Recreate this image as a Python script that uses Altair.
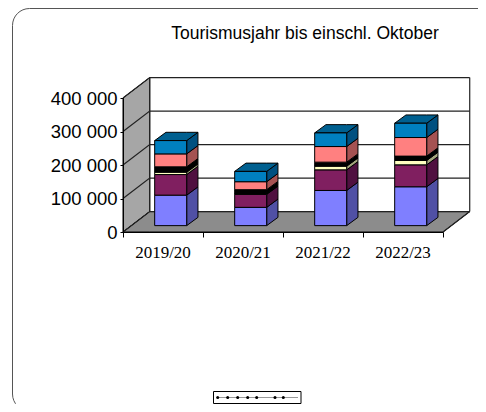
import altair as alt

seasons = ["2019/20", "2020/21", "2021/22", "2022/23"]
series_a = [91000, 54600, 105000, 116000]
series_b = [61500, 38700, 61500, 65500]
series_c = [7000, 1000, 11000, 13000]
series_d = [16000, 13000, 12000, 13000]
series_e = [38700, 23800, 46600, 55500]
series_f = [39700, 30800, 40700, 42700]
all_series = [series_a, series_b, series_c, series_d, series_e, series_f]
front_colors = ["#7f7fff", "#801f60", "#ffffc0", "#000000", "#ff8080", "#0080c0"]
side_colors = ["#5050a5", "#501040", "#a5a57d", "#000000", "#a55252", "#005080"]
top_color = "#006090"
title_text = "Tourismusjahr bis einschl. Oktober"
y_ticks = [0, 100000, 200000, 300000, 400000]
x_ticks = [0, 1, 2, 3, 4]

Y_MAX = 400000
DX, DY = 0.334, 61000          # depth of the room
BDX, BDY = 0.141, 24700        # depth of a bar
BASE = 19000                   # bars stand this far back on the floor
BX0, BW = 0.396, 0.40


def polygon(pts, fill, pid):
    return [{"pid": pid, "x": x, "y": y, "y2": y2, "fill": fill} for (x, y, y2) in pts]


room, faces = [], []
room += polygon([(0, 0, Y_MAX), (DX, DY, Y_MAX + DY)], "#a6a6a6", "wall")
room += polygon([(0, 0, 0), (DX, 0, DY), (4, 0, DY), (4 + DX, DY, DY)], "#8c8c8c", "floor")

front = []
for i, _ in enumerate(seasons):
    x0 = i + BX0
    x1 = x0 + BW
    b = BASE
    for j, s in enumerate(all_series):
        t = b + s[i]
        faces += polygon([(x1, b, t), (x1 + BDX, b + BDY, t + BDY)], side_colors[j], f"s{i}{j}")
        front.append({"x": x0, "x2": x1, "y": b, "y2": t, "fill": front_colors[j]})
        b = t
    faces += polygon([(x0, b, b), (x0 + BDX, b, b + BDY), (x1, b, b + BDY), (x1 + BDX, b + BDY, b + BDY)],
                     top_color, f"t{i}")

lines = []
for v in y_ticks:
    lines += [{"g": f"d{v}", "n": 0, "x": 0, "y": v}, {"g": f"d{v}", "n": 1, "x": DX, "y": v + DY},
              {"g": f"d{v}", "n": 2, "x": 4 + DX, "y": v + DY}]
lines += [{"g": "r", "n": 0, "x": 4 + DX, "y": DY}, {"g": "r", "n": 1, "x": 4 + DX, "y": Y_MAX + DY}]
lines += [{"g": "l", "n": 0, "x": DX, "y": DY}, {"g": "l", "n": 1, "x": DX, "y": Y_MAX + DY}]
lines += [{"g": "f", "n": 0, "x": 4, "y": 0}, {"g": "f", "n": 1, "x": 4 + DX, "y": DY}]

xs = alt.Scale(domain=[0, 4], nice=False, zero=False)
ys = alt.Scale(domain=[0, Y_MAX], nice=False, zero=False)
x_axis = alt.Axis(values=x_ticks, labels=False, title=None, grid=False,
                  tickColor="#000000", domainColor="#000000", tickSize=5, zindex=1)
y_axis = alt.Axis(values=y_ticks, title=None, grid=False,
                  labelExpr="replace(format(datum.value, ','), ',', ' ')",
                  labelFont="Liberation Sans", labelFontSize=18.5, labelColor="#000000",
                  labelOverlap=False, labelPadding=3, labelBound=False, labelFlush=False,
                  tickColor="#000000", domainColor="#000000", tickSize=3, zindex=1)
X = alt.X("x:Q", scale=xs, axis=x_axis)
Y = alt.Y("y:Q", scale=ys, axis=y_axis, stack=None)


def poly_layer(rows):
    return alt.Chart(alt.Data(values=rows)).mark_area(
        orient="vertical", stroke="#000000", strokeWidth=1, clip=False
    ).encode(x=X, y=Y, y2="y2:Q", detail="pid:N", fill=alt.Fill("fill:N", scale=None))


frame = alt.Chart(alt.Data(values=[{}])).mark_rect(
    fill="#ffffff", stroke="#555555", strokeWidth=1, cornerRadius=17
).encode(x=alt.value(-110.5), x2=alt.value(400), y=alt.value(-89.5), y2=alt.value(313))

grid = alt.Chart(alt.Data(values=lines)).mark_line(color="#222222", strokeWidth=1.2, clip=False).encode(
    x=X, y=Y, detail="g:N", order="n:Q",
)

bars = alt.Chart(alt.Data(values=front)).mark_rect(stroke="#000000", strokeWidth=1, clip=False).encode(
    x=X, x2="x2:Q", y=alt.Y("y:Q", scale=ys, axis=y_axis), y2="y2:Q", fill=alt.Fill("fill:N", scale=None),
)

labels = alt.Chart(alt.Data(values=[{"x": i + 0.5, "t": s} for i, s in enumerate(seasons)])).mark_text(
    font="Liberation Serif", fontSize=17, color="#000000", baseline="middle"
).encode(x=X, y=alt.value(155), text="t:N")

title = alt.Chart(alt.Data(values=[{"t": title_text}])).mark_text(
    font="Liberation Sans", fontSize=17.5, color="#000000", baseline="middle"
).encode(x=alt.value(182), y=alt.value(-64), text="t:N")

legend_box = alt.Chart(alt.Data(values=[{}])).mark_rect(fill="#ffffff", stroke="#000000", strokeWidth=1).encode(
    x=alt.value(90.5), x2=alt.value(178), y=alt.value(293.5), y2=alt.value(305.5))
legend_line = alt.Chart(alt.Data(values=[{}])).mark_rule(color="#999999", strokeWidth=1).encode(
    x=alt.value(94), x2=alt.value(175), y=alt.value(299.5))
legend_pts = alt.Chart(alt.Data(values=[{"p": p} for p in [94.7, 104.7, 114.7, 124.7, 133.7, 152, 160.3]])).mark_circle(
    color="#000000", size=9, opacity=1).encode(x=alt.X("p:Q", scale=None, axis=None), y=alt.value(299.5))

chart = alt.layer(
    frame, poly_layer(room), grid, poly_layer(faces), bars, labels, title, legend_box, legend_line, legend_pts
).properties(
    width=320, height=134,
    padding={"left": 115, "top": 90, "right": 35, "bottom": 172},
    autosize=alt.AutoSizeParams(type="none"),
).configure_view(stroke=None)

chart.save("out.html", embed_options={"renderer": "svg", "actions": False})
